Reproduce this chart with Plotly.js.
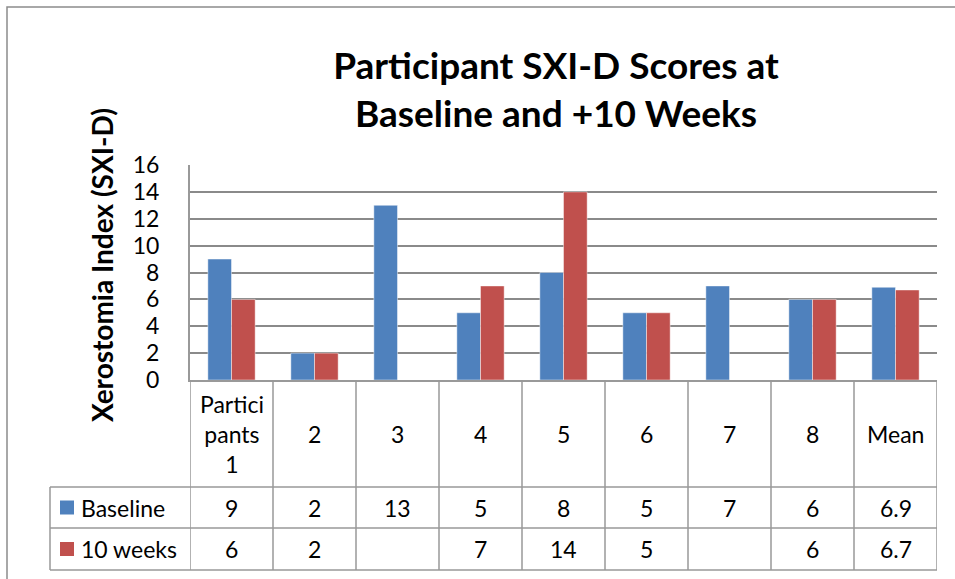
<!DOCTYPE html>
<html><head><meta charset="utf-8">
<script src="https://cdn.plot.ly/plotly-3.0.1.min.js"></script>
<style>html,body{margin:0;padding:0;background:#fff}#chart{width:955px;height:579px}</style>
</head><body><div id="chart"></div>
<script>
// ---- data ----
const categories = ["Participants 1","2","3","4","5","6","7","8","Mean"];
const headerLabels = ["Partici<br>pants<br>1","2","3","4","5","6","7","8","Mean"];
const seriesNames = ["Baseline","10 weeks"];
const baseline = [9,2,13,5,8,5,7,6,6.9];
const weeks10 = [6,2,null,7,14,5,null,6,6.7];
const yTicks = [0,2,4,6,8,10,12,14,16];

// ---- layout geometry (pixels) ----
const W=955,H=579, L=190, R=18, T=165, B=199;
const pw=W-L-R, ph=H-T-B;
const px=x=>(x-L)/pw;           // pixel -> paper x
const py=y=>(H-B-y)/ph;         // pixel -> paper y
const colors=["#4F81BD","#C0504D"];
const lineC="#999999";
const font="Lato, 'Open Sans', sans-serif";
const tfs=23;

const traces=[baseline,weeks10].map((v,i)=>({
  type:"bar", name:seriesNames[i], x:categories, y:v,
  marker:{color:colors[i], line:{color:"rgba(255,255,255,0.45)",width:1}},
  hoverinfo:"x+y+name"
}));

const shapes=[], ann=[];
// outer chart border
shapes.push({type:"rect",xref:"paper",yref:"paper",x0:px(7),x1:px(W+20),y0:py(H+20),y1:py(7),line:{color:"#8c8c8c",width:1.5}});
// table vertical lines
const rowY=[380,487,528,570];
for(let i=0;i<=categories.length;i++){
  shapes.push({type:"line",xref:"x",yref:"paper",x0:i-0.5,x1:i-0.5,y0:py(570),y1:py(380),line:{color:lineC,width:1.5}});
}
shapes.push({type:"line",xref:"paper",yref:"paper",x0:px(50),x1:px(50),y0:py(570),y1:py(487),line:{color:lineC,width:1.5}});
// table horizontal lines
[487,528,570].forEach(y=>shapes.push({type:"line",xref:"paper",yref:"paper",x0:px(50),x1:1,y0:py(y),y1:py(y),line:{color:lineC,width:1.5}}));
// header text
categories.forEach((c,i)=>{
  ann.push({xref:"x",yref:"paper",x:i,y:py(433.5),text:headerLabels[i],showarrow:false,
    font:{family:font,size:tfs,color:"#000"},align:"center",yanchor:"middle"});
});
// data rows
[baseline,weeks10].forEach((v,r)=>{
  const yc=(rowY[r+1]+rowY[r+2])/2;
  v.forEach((val,i)=>{
    if(val===null) return;
    ann.push({xref:"x",yref:"paper",x:i,y:py(yc),text:String(val),showarrow:false,
      font:{family:font,size:tfs,color:"#000"},yanchor:"middle"});
  });
  shapes.push({type:"rect",xref:"paper",yref:"paper",x0:px(60),x1:px(74),y0:py(yc+7),y1:py(yc-7),fillcolor:colors[r],line:{width:0}});
  ann.push({xref:"paper",yref:"paper",x:px(79),y:py(yc),text:seriesNames[r],showarrow:false,xanchor:"left",yanchor:"middle",
    font:{family:font,size:tfs,color:"#000"}});
});
// y-axis title
ann.push({xref:"paper",yref:"paper",x:px(102),y:py(265),text:"<b>Xerostomia Index (SXI-D)</b>",textangle:-90,showarrow:false,
  font:{family:font,size:28,color:"#000"},xanchor:"center",yanchor:"middle"});

const layout={
  width:W,height:H,margin:{l:L,r:R,t:T,b:B},
  paper_bgcolor:"#fff",plot_bgcolor:"#fff",
  title:{text:"<b>Participant SXI-D Scores at<br>Baseline and +10 Weeks</b>",x:556/W,xanchor:"center",xref:"container",
    y:1-79/H,yref:"container",yanchor:"middle",font:{family:font,size:37,color:"#000"}},
  barmode:"group",bargap:0.43,bargroupgap:0,
  showlegend:false,
  xaxis:{type:"category",showticklabels:false,showgrid:false,zeroline:false,showline:true,linecolor:lineC,linewidth:2,ticks:"",range:[-0.5,8.5],fixedrange:true},
  yaxis:{range:[0,16],tickvals:yTicks,ticktext:yTicks.map(String),showgrid:true,gridcolor:"#8a8a8a",gridwidth:2,zeroline:false,
    showline:true,linecolor:lineC,linewidth:2,ticks:"",ticklabelstandoff:24,tickfont:{family:font,size:23,color:"#000"},fixedrange:true},
  shapes:shapes,annotations:ann
};
Plotly.newPlot("chart",traces,layout,{displayModeBar:false,staticPlot:true});
</script></body></html>
